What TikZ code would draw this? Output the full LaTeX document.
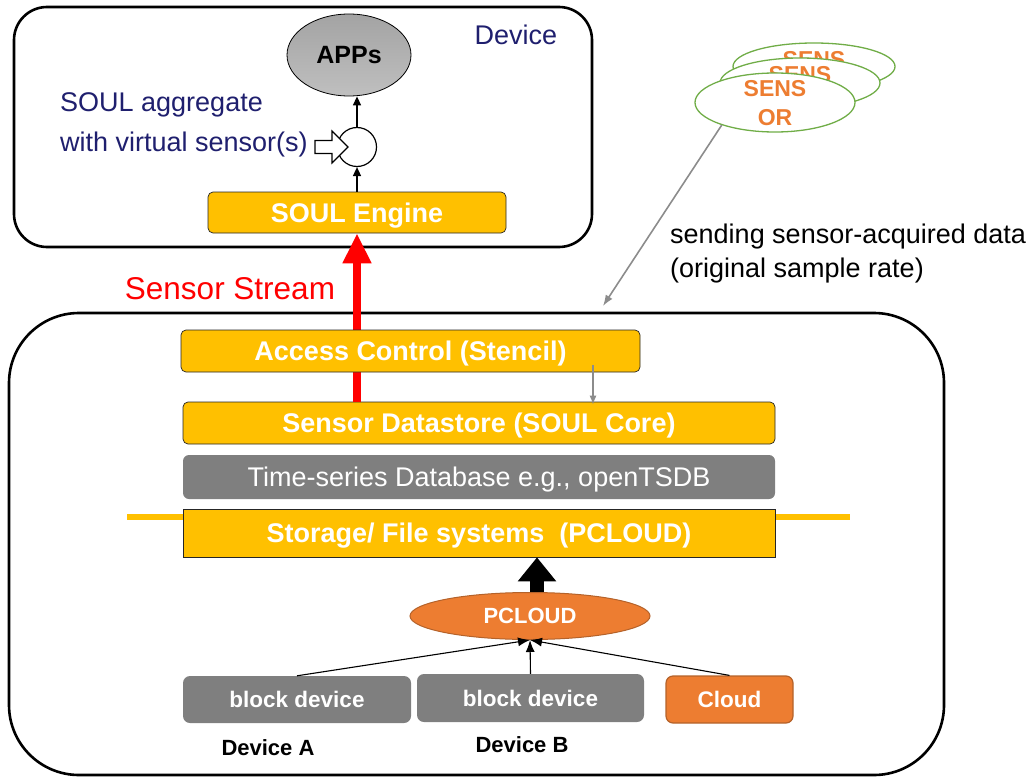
\documentclass[tikz,border=0pt]{standalone}
\usepackage{fontspec}
\setmainfont{Liberation Sans}
\usetikzlibrary{arrows.meta,shapes.geometric}

\definecolor{soulyellow}{HTML}{FFC000}
\definecolor{soulorange}{HTML}{ED7D31}
\definecolor{orangeedge}{HTML}{B4622A}
\definecolor{blockgray}{HTML}{7F7F7F}
\definecolor{labelnavy}{HTML}{1F1F6E}
\definecolor{sensgreen}{HTML}{70AD47}
\definecolor{linkgray}{HTML}{8C8C8C}
\definecolor{streamred}{HTML}{FF0000}

\newcommand\fsz[2]{\fontsize{#1}{#2}\selectfont}

\begin{document}
\begin{tikzpicture}[x=1pt,y=-1pt,
  frame/.style={draw=black, line width=2.6pt, inner sep=0pt},
  layer/.style={fill=soulyellow, draw=black!85, line width=0.7pt, rounded corners=5pt,
    text=white, font=\bfseries\fsz{27}{32}, inner sep=0pt, text height=19.4pt, text depth=0pt},
  greylayer/.style={fill=blockgray, rounded corners=6pt, text=white,
    font=\fsz{27}{32}, inner sep=0pt, text height=19.4pt, text depth=0pt},
  blockbox/.style={fill=blockgray, rounded corners=7pt, text=white,
    font=\bfseries\fsz{22.5}{27}, inner sep=0pt, text height=16.1pt, text depth=0pt},
  sensor/.style={ellipse, draw=sensgreen, line width=1.3pt, fill=white, inner sep=0pt},
  senstext/.style={text=soulorange, font=\bfseries\fsz{23}{29}, align=center, inner sep=0pt},
  navylabel/.style={text=labelnavy, font=\fsz{27}{32}, inner sep=0pt},
  plainlabel/.style={text=black, font=\fsz{27}{32}, inner sep=0pt},
  thinarrow/.style={draw=black, line width=1.1pt, -{Latex[length=12pt,width=9pt]}},
  linkarrow/.style={draw=linkgray, line width=1.6pt, -{Latex[length=11pt,width=8pt]}},
  smallarrow/.style={draw=black, line width=1.5pt, -{Triangle[length=9pt,width=8pt]}}
]
\useasboundingbox (0,0) rectangle (1032,778);

% ---------- the two containers ----------
\node[frame, rounded corners=33pt, minimum width=578pt, minimum height=240pt] (dev) at (303,127) {};
\node[frame, rounded corners=70pt, minimum width=935pt, minimum height=462pt] (srv) at (476.5,544) {};

% ---------- device side ----------
\node[navylabel, anchor=base] (devlbl) at (516,44.5) {Device};
\node[ellipse, draw=black, line width=0.8pt, top color=gray!72, bottom color=gray!50,
      minimum width=124pt, minimum height=82pt, inner sep=0pt,
      font=\bfseries\fsz{25}{30}] (apps) at (349,55) {APPs};
\node[navylabel, anchor=base west] (agg1) at (60,112) {SOUL aggregate};
\node[navylabel, anchor=base west] (agg2) at (60,152) {with virtual sensor(s)};
\node[circle, draw=black, line width=1.2pt, fill=white, minimum size=39pt, inner sep=0pt] (agg) at (357,147) {};
% hollow block arrow feeding the virtual sensor(s)
\draw[shift={(agg.center)}, line width=1.2pt, fill=white, line join=miter]
  (-42,-6.5) -- (-25,-6.5) -- (-25,-16) -- (-9,0) -- (-25,16) -- (-25,6.5) -- (-42,6.5) -- cycle;
\node[layer, minimum width=298pt, minimum height=41pt] (engine) at (357,212.5) {SOUL Engine};
\draw[smallarrow] (engine.north) -- (agg.south);
\draw[smallarrow] (agg.north) -- (agg.north |- apps.south);

% ---------- sensor stream ----------
\node[layer, minimum width=592pt, minimum height=42pt] (ds) at (479,423) {Sensor Datastore (SOUL Core)};
\draw[streamred, line width=8pt, -{Triangle[length=30pt,width=27pt]}] (engine.south |- ds.north) -- (engine.south);
\node[text=streamred, font=\fsz{31.5}{36}, inner sep=0pt, anchor=base] (stream) at (230,299) {Sensor Stream};

% ---------- server side stack ----------
\node[layer, minimum width=459pt, minimum height=42pt] (ac) at (410.5,351) {Access Control (Stencil)};
\coordinate (acx) at (593,0);
\draw[linkarrow, line width=1.2pt, -{Latex[length=9pt,width=7pt]}]
  ([yshift=7pt]ac.south -| acx) -- ([yshift=-3pt]ds.north -| acx);
\node[greylayer, minimum width=592pt, minimum height=44pt] (tsdb) at (479,477) {Time-series Database e.g., openTSDB};
\draw[soulyellow, line width=6pt] (127,517) -- (850,517);
\node[layer, rounded corners=0pt, minimum width=592pt, minimum height=48pt] (st) at (479,533) {Storage/ File systems~~(PCLOUD)};

% ---------- PCLOUD and its sources ----------
\node[ellipse, fill=soulorange, draw=orangeedge, line width=1pt, minimum width=240pt, minimum height=47pt,
      inner sep=0pt, text=white, font=\bfseries\fsz{22}{26}, text height=15.8pt, text depth=0pt] (pc) at (530,616) {PCLOUD};
\coordinate (pcup) at ([xshift=7pt]pc.north);
\draw[black, line width=14pt, -{Triangle[length=24pt,width=37pt]}] (pcup) -- (pcup |- st.south);

\node[blockbox, minimum width=228pt, minimum height=47pt] (blka) at (297,699.5) {block device};
\node[blockbox, minimum width=227pt, minimum height=48pt] (blkb) at (530.5,698) {block device};
\node[blockbox, fill=soulorange, draw=orangeedge, line width=1.2pt, minimum width=127pt, minimum height=47pt] (cloud) at (729.5,699.5) {Cloud};
\draw[thinarrow] (blka.north) -- (pc.south);
\draw[thinarrow] (blkb.north) -- (pc.south);
\draw[thinarrow] (cloud.north) -- (pc.south);
\node[font=\bfseries\fsz{22}{26}, inner sep=0pt, anchor=base] (deva) at (268,755) {Device A};
\node[font=\bfseries\fsz{22}{26}, inner sep=0pt, anchor=base] (devb) at (522,752) {Device B};

% ---------- physical sensors (stacked, back to front) ----------
\node[sensor, minimum width=162pt, minimum height=47pt] (s3) at (814,66.5) {};
\node[senstext] (s3t) at (814,60) {SENS};
\node[sensor, minimum width=160pt, minimum height=50pt] (s2) at (800,83) {};
\node[senstext] (s2t) at (800,75) {SENS};
\node[sensor, minimum width=160pt, minimum height=59pt] (s1) at (775,102.5) {};
\node[senstext] (s1t) at (775,103) {SENS\\OR};
\coordinate (sin) at (603,306);
\draw[linkarrow] (s1.203) -- (sin);
\node[plainlabel, anchor=base west] (send1) at (670,243) {sending sensor-acquired data};
\node[plainlabel, anchor=base west] (send2) at (670,277) {(original sample rate)};
\end{tikzpicture}
\end{document}
